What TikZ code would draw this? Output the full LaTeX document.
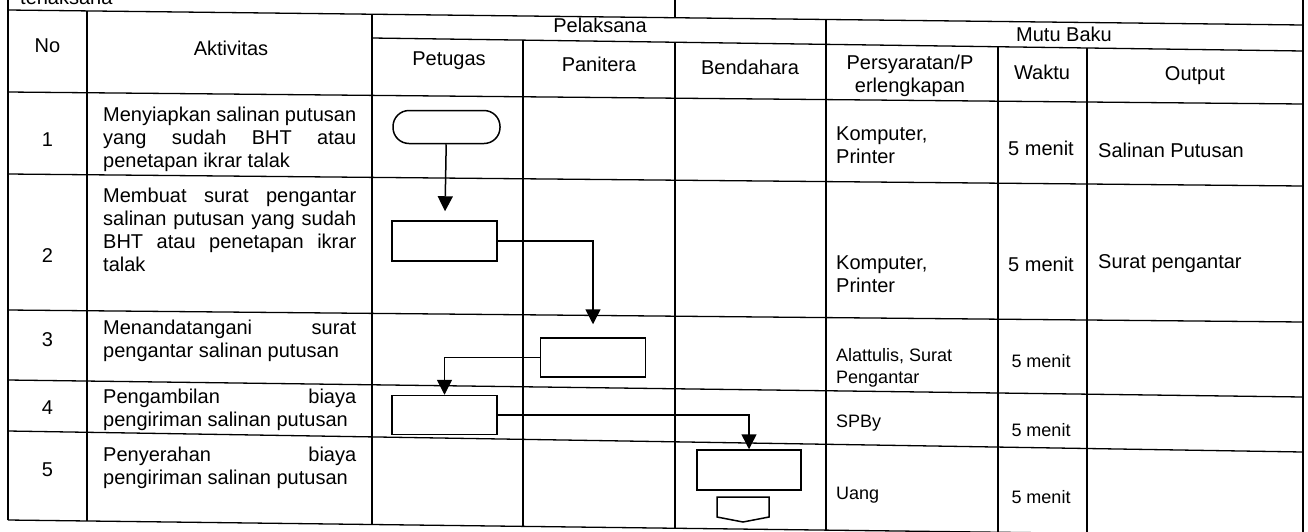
\documentclass[tikz,border=0pt]{standalone}
\usepackage{fontspec}
\setmainfont{Liberation Sans}
\usetikzlibrary{arrows.meta, positioning}

\begin{document}
\begin{tikzpicture}[x=1pt, y=-1pt,
    tabline/.style={line width=1.3pt},
    box/.style={draw, line width=1.5pt, minimum width=105pt, minimum height=40pt, inner sep=0pt},
    term/.style={box, rounded corners=16pt, minimum width=107pt, minimum height=33pt},
    flow/.style={line width=1.5pt, -{Triangle[width=15pt, length=15pt]}},
    txt/.style={font=\fontsize{20}{23}\selectfont, inner sep=0pt},
    smtxt/.style={font=\fontsize{18}{22}\selectfont, inner sep=0pt},
    act/.style={txt, text width=253pt, align=justify, anchor=north west},
    syarat/.style={align=left, anchor=west}]
\useasboundingbox (0,0) rectangle (1308,531);
% table (the scan is a little skewed)
\draw[tabline] (8,-5) -- (8,520);
\draw[tabline] (1303,-5) -- (1303,545);
\draw[tabline] (675,-5) -- (675,17.7);
\draw[tabline] (8,10) -- (1303,25);
\draw[tabline] (372,38) -- (1303,51);
\foreach \l/\r in {92/104, 174/186, 310/322, 380/397, 431/452, 520/536}
    \draw[tabline] (8,\l) -- (1303,\r);
\draw[tabline] (87,10.9) -- (87,521);
\draw[tabline] (372,14.2) -- (372,524.5);
\draw[tabline] (826,19.5) -- (826,530.1);
\draw[tabline] (523,40.1) -- (523,526.4);
\draw[tabline] (675,42.2) -- (675,528.2);
\draw[tabline] (998,46.7) -- (998,545);
\draw[tabline] (1087,48) -- (1087,545);

\node[txt, anchor=base west] (ket) at (20,4) {terlaksana};

% header
\node[txt] (hno) at (47.5,46) {No};
\node[txt] (hakt) at (231,48) {Aktivitas};
\node[txt] (hpel) at (600,25) {Pelaksana};
\node[txt] (hmutu) at (1064,34) {Mutu Baku};
\node[txt] (hpet) at (449,61) {Petugas};
\node[txt] (hpan) at (599,64) {Panitera};
\node[txt] (hben) at (750,67) {Bendahara};
\node[txt, align=center] (hsyarat) at (910,76) {Persyaratan/P\\erlengkapan};
\node[txt] (hwaktu) at (1042,72) {Waktu};
\node[txt] (hout) at (1195,76) {Output};

% rows
\foreach \n/\y in {1/140, 2/256, 3/340, 4/408, 5/470}
    \node[txt] (no\n) at (47.5,\y) {\n};

\node[act] (akt1) at (103,106.5) {Menyiapkan salinan putusan\linebreak yang sudah BHT atau\linebreak penetapan ikrar talak};
\node[act] (akt2) at (103,187.5) {Membuat surat pengantar\linebreak salinan putusan yang sudah\linebreak BHT atau penetapan ikrar\linebreak talak};
\node[act] (akt3) at (103,319.5) {Menandatangani surat\linebreak pengantar salinan putusan};
\node[act] (akt4) at (103,388.5) {Pengambilan biaya\linebreak pengiriman salinan putusan};
\node[act] (akt5) at (103,446.5) {Penyerahan biaya\linebreak pengiriman salinan putusan};

\node[txt, syarat] (syarat1) at (836,145) {Komputer,\\Printer};
\node[txt, syarat] (syarat2) at (836,274) {Komputer,\\Printer};
\node[smtxt, syarat] (syarat3) at (836,368) {Alattulis, Surat\\Pengantar};
\node[smtxt, syarat] (syarat4) at (836,423) {SPBy};
\node[smtxt, syarat] (syarat5) at (836,495) {Uang};

\node[txt] (waktu1) at (1041,148) {5 menit};
\node[txt] (waktu2) at (1041,264) {5 menit};
\node[smtxt] (waktu3) at (1041,361) {5 menit};
\node[smtxt] (waktu4) at (1041,430) {5 menit};
\node[smtxt] (waktu5) at (1041,497) {5 menit};

\node[txt, anchor=west] (out1) at (1098,150) {Salinan Putusan};
\node[txt, anchor=west] (out2) at (1098,264) {Surat pengantar};

% flow
\node[term] (mulai) at (446.5,127) {};
\node[box] (buat) at (444.5,241) {};
\node[box, minimum height=39pt] (ttd) at (593,357.5) {};
\node[box, minimum height=39pt] (ambil) at (444.5,415) {};
\node[box, minimum width=104pt] (serah) at (749,470) {};
\coordinate (keluar) at (743,497);

\draw[flow, shorten >=9pt] (mulai) -- (buat);
\draw[flow, shorten >=13pt] (buat.east) -| (ttd.north);
\draw[flow] (ttd.west) -| (ambil.north);
\draw[flow] (ambil.east) -| (serah.north);
\draw[line width=1.5pt] (keluar) ++(-26,0) -- ++(52,0) -- ++(0,20) -- ++(-26,5) -- ++(-26,-5) -- cycle;
\end{tikzpicture}
\end{document}
